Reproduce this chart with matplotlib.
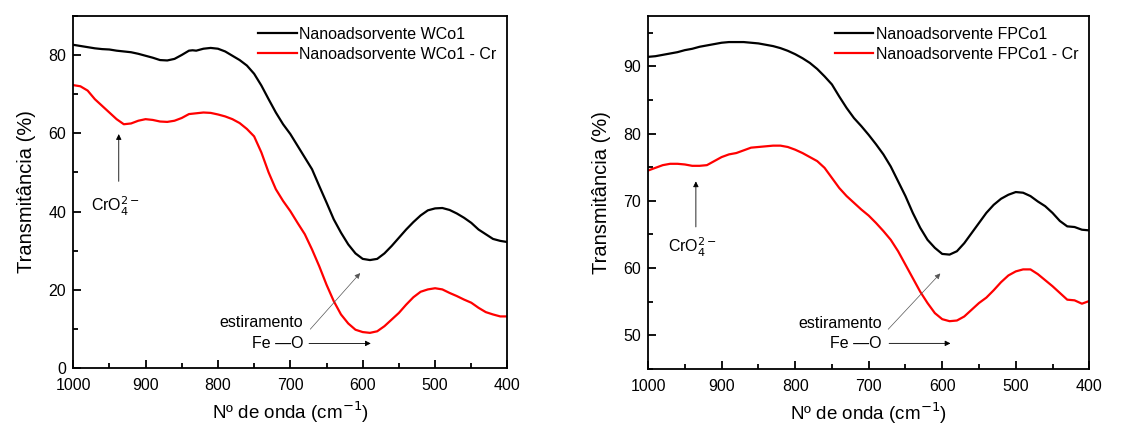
import numpy as np
import matplotlib
matplotlib.use('Agg')
import matplotlib.pyplot as plt
from matplotlib.ticker import MultipleLocator

plt.rcParams['font.family'] = ['Liberation Sans', 'DejaVu Sans']

# wavenumbers (cm-1)
x_wco = [1000, 990, 980, 970, 960, 950, 940, 930, 920, 910, 900, 890, 880, 870, 860, 850,
         840, 835, 830, 820, 810, 800, 790, 780, 770, 760, 750, 740, 730, 720, 710, 700,
         690, 680, 670, 660, 650, 640, 630, 620, 610, 600, 590, 580, 570, 560, 550, 540,
         530, 520, 510, 500, 490, 480, 470, 460, 450, 440, 430, 420, 410, 400]
wco1 = [82.6, 82.3, 82.0, 81.7, 81.5, 81.4, 81.1, 80.9, 80.7, 80.3, 79.8, 79.3, 78.7, 78.6,
        79.0, 80.0, 81.1, 81.2, 81.1, 81.6, 81.8, 81.6, 80.9, 79.8, 78.7, 77.3, 75.2, 72.2,
        68.7, 65.3, 62.3, 59.8, 56.8, 53.8, 50.8, 46.5, 42.3, 38.0, 34.6, 31.6, 29.3, 27.9,
        27.6, 27.9, 29.3, 31.2, 33.3, 35.4, 37.3, 39.0, 40.3, 40.8, 40.9, 40.4, 39.5, 38.4,
        37.1, 35.4, 34.2, 33.0, 32.5, 32.2]
wco1_cr = [72.3, 72.0, 70.9, 68.7, 67.0, 65.3, 63.6, 62.3, 62.5, 63.2, 63.6, 63.4, 63.0, 62.9,
           63.2, 63.9, 64.9, 65.0, 65.1, 65.3, 65.2, 64.8, 64.3, 63.6, 62.6, 61.1, 59.2, 55.1,
           50.0, 45.7, 42.7, 40.1, 37.1, 34.2, 30.3, 26.0, 21.3, 17.1, 13.7, 11.4, 9.8, 9.2,
           9.0, 9.4, 10.7, 12.4, 14.1, 16.2, 18.1, 19.5, 20.1, 20.4, 20.1, 19.2, 18.4, 17.5,
           16.7, 15.4, 14.3, 13.7, 13.2, 13.2]

x_fpco = [1000, 990, 980, 970, 960, 950, 940, 930, 920, 910, 900, 890, 880, 870, 860, 850,
          840, 830, 820, 810, 800, 790, 780, 770, 760, 750, 740, 730, 720, 710, 700, 690,
          680, 670, 660, 650, 640, 630, 620, 610, 600, 590, 580, 570, 560, 550, 540, 530,
          520, 510, 500, 490, 480, 470, 460, 450, 440, 430, 420, 410, 400]
fpco1 = [91.4, 91.5, 91.7, 91.9, 92.1, 92.4, 92.6, 92.9, 93.1, 93.3, 93.5, 93.6, 93.6, 93.6,
         93.5, 93.4, 93.2, 93.0, 92.7, 92.3, 91.8, 91.2, 90.5, 89.6, 88.5, 87.3, 85.5, 83.8,
         82.3, 81.1, 79.8, 78.4, 76.9, 75.1, 72.9, 70.7, 68.2, 66.0, 64.2, 63.0, 62.1, 62.0,
         62.5, 63.7, 65.2, 66.7, 68.2, 69.4, 70.3, 70.9, 71.3, 71.2, 70.7, 69.9, 69.2, 68.2,
         67.0, 66.2, 66.1, 65.7, 65.6]
fpco1_cr = [74.5, 74.9, 75.3, 75.5, 75.5, 75.4, 75.2, 75.2, 75.3, 75.9, 76.5, 76.9, 77.1, 77.5,
            77.9, 78.0, 78.1, 78.2, 78.2, 78.0, 77.6, 77.1, 76.5, 75.9, 74.9, 73.4, 71.9, 70.7,
            69.7, 68.7, 67.8, 66.7, 65.5, 64.2, 62.5, 60.5, 58.5, 56.5, 54.8, 53.3, 52.4, 52.1,
            52.2, 52.8, 53.8, 54.8, 55.6, 56.7, 57.9, 58.9, 59.5, 59.8, 59.8, 59.1, 58.2, 57.3,
            56.3, 55.3, 55.2, 54.7, 55.1]

fig = plt.figure(figsize=(11.43, 4.28), dpi=100)
ax1 = fig.add_axes([0.064, 0.140, 0.380, 0.823])
ax2 = fig.add_axes([0.567, 0.138, 0.386, 0.825])


def style(ax, ymaj, ymin):
    ax.set_xlim(1000, 400)
    ax.xaxis.set_major_locator(MultipleLocator(100))
    ax.xaxis.set_minor_locator(MultipleLocator(50))
    ax.yaxis.set_major_locator(MultipleLocator(ymaj))
    ax.yaxis.set_minor_locator(MultipleLocator(ymin))
    ax.tick_params(which='both', direction='in', top=False, right=False, labelsize=11.5, width=1.3)
    ax.tick_params(which='major', length=5.5)
    ax.tick_params(which='minor', length=3.5)
    ax.tick_params(axis='x', pad=7)
    ax.tick_params(axis='y', pad=5)
    for s in ax.spines.values():
        s.set_linewidth(1.3)
    ax.set_xlabel('Nº de onda (cm$^{-1}$)', fontsize=13.5, labelpad=5)
    ax.set_ylabel('Transmitância (%)', fontsize=14.5, labelpad=9)
    ax.legend(loc='upper right', frameon=False, fontsize=11.5, handlelength=2.4,
              handletextpad=0.15, labelspacing=0.3, borderaxespad=0.3)


def notes(ax, cr_x, cr_y0, cr_y1, cr_ty, fe_y, est_y, diag0, diag1, harrow):
    ax.annotate('', xy=(cr_x, cr_y1), xytext=(cr_x, cr_y0),
                arrowprops=dict(arrowstyle='-|>', color='black', lw=0.6,
                                mutation_scale=8))
    ax.text(cr_x + 5, cr_ty, 'CrO$_4^{2-}$', fontsize=11.5, ha='center', va='center')
    ax.text(682, est_y, 'estiramento', fontsize=11.5, ha='right', va='center')
    ax.text(682, fe_y, 'Fe —O', fontsize=11.5, ha='right', va='center')
    ax.annotate('', xy=diag1, xytext=diag0,
                arrowprops=dict(arrowstyle='-|>', color='#555555', lw=0.5,
                                mutation_scale=8))
    ax.annotate('', xy=(harrow[1], fe_y), xytext=(harrow[0], fe_y),
                arrowprops=dict(arrowstyle='-|>', color='black', lw=0.6,
                                mutation_scale=8))


ax1.plot(x_wco, wco1, color='black', lw=1.6, label='Nanoadsorvente WCo1')
ax1.plot(x_wco, wco1_cr, color='#ff0000', lw=1.6, label='Nanoadsorvente WCo1 - Cr')
ax1.set_ylim(0, 90)
style(ax1, 20, 10)
notes(ax1, 937, 47, 60.5, 41.3, 6.3, 11.6, (675, 9.4), (601, 24.8), (678, 585))

ax2.plot(x_fpco, fpco1, color='black', lw=1.6, label='Nanoadsorvente FPCo1')
ax2.plot(x_fpco, fpco1_cr, color='#ff0000', lw=1.6, label='Nanoadsorvente FPCo1 - Cr')
ax2.set_ylim(45, 97.5)
style(ax2, 10, 5)
notes(ax2, 935, 65.7, 73.3, 63.0, 48.8, 51.7, (676, 50.6), (600, 59.5), (676, 585))

fig.savefig('out.png', dpi=100)
